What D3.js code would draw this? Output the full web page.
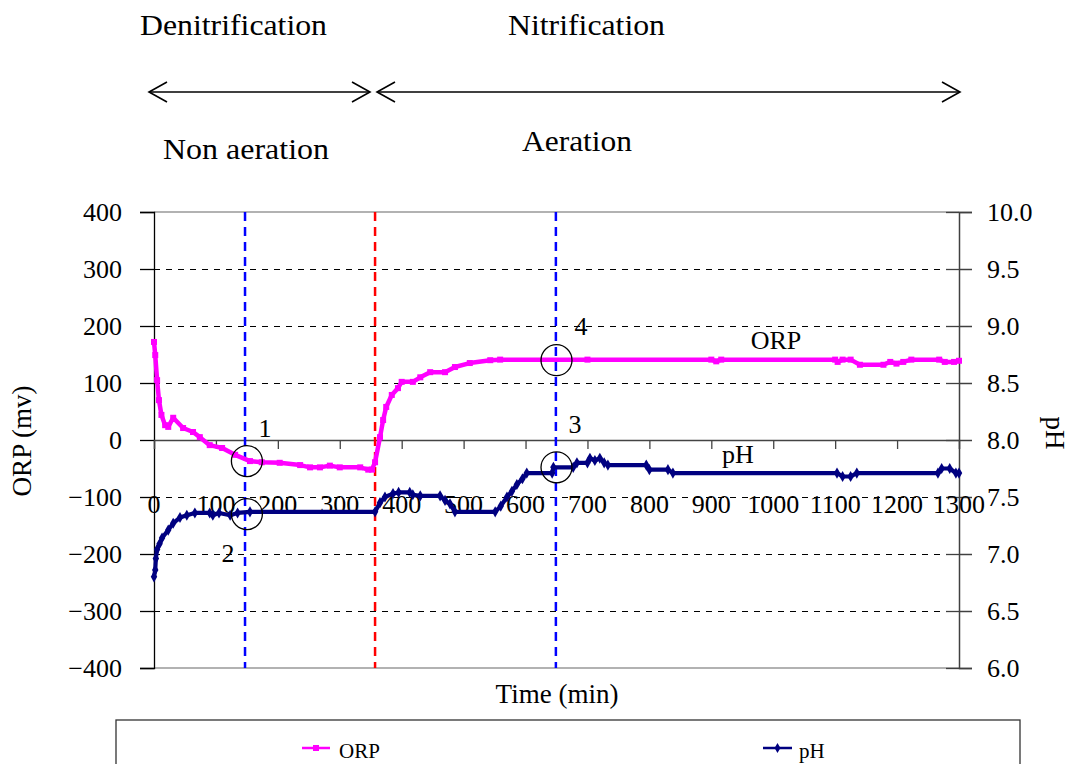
<!DOCTYPE html>
<html>
<head>
<meta charset="utf-8">
<script src="https://cdn.jsdelivr.net/npm/d3@7"></script>
<style>
  html, body { margin: 0; padding: 0; background: #fff; }
  svg { display: block; }
</style>
</head>
<body>
<svg id="chart" width="1069" height="764"></svg>
<script>
// ---------- DATA ----------
const orpTime  = [0, 2, 5, 8, 12, 18, 23, 31, 47, 63, 74, 90, 110, 131, 155, 174, 203, 236, 252, 268, 284, 300, 333, 346, 352, 357, 365, 370, 375, 384, 394, 400, 418, 430, 446, 470, 486, 510, 543, 559, 700, 900, 908, 916, 1100, 1104, 1112, 1125, 1140, 1178, 1189, 1199, 1210, 1223, 1268, 1277, 1292, 1300];
const orpValue = [172, 149, 105, 70, 44, 26, 23, 39, 21, 14, 5, -9, -14, -26, -37, -39, -40, -44, -48, -48, -45, -48, -48, -52, -52, -39, 5, 35, 58, 79, 91, 102, 102, 110, 119, 119, 128, 135, 140, 141, 141, 141, 138, 141, 141, 137, 141, 141, 132, 132, 137, 134, 137, 141, 141, 137, 137, 139];

const phTime  = [0, 2, 3, 5, 9, 13, 23, 31, 42, 53, 66, 90, 95, 105, 123, 135, 155, 357, 365, 373, 386, 395, 413, 418, 430, 462, 470, 478, 486, 551, 560, 570, 578, 586, 595, 602, 643, 645, 677, 683, 700, 704, 712, 720, 727, 733, 795, 800, 830, 838, 1103, 1112, 1125, 1135, 1266, 1272, 1285, 1295, 1300];
const phValue = [6.80, 6.86, 6.96, 7.04, 7.09, 7.14, 7.21, 7.27, 7.32, 7.34, 7.36, 7.36, 7.34, 7.36, 7.34, 7.36, 7.37, 7.37, 7.45, 7.50, 7.53, 7.54, 7.54, 7.52, 7.51, 7.51, 7.47, 7.44, 7.37, 7.37, 7.42, 7.50, 7.55, 7.61, 7.66, 7.71, 7.71, 7.76, 7.76, 7.80, 7.80, 7.84, 7.82, 7.84, 7.80, 7.78, 7.78, 7.74, 7.74, 7.71, 7.71, 7.68, 7.68, 7.71, 7.71, 7.75, 7.75, 7.71, 7.71];

const xTicks   = [0, 100, 200, 300, 400, 500, 600, 700, 800, 900, 1000, 1100, 1200, 1300];
const orpTicks = [-400, -300, -200, -100, 0, 100, 200, 300, 400];
const phTicks  = [6.0, 6.5, 7.0, 7.5, 8.0, 8.5, 9.0, 9.5, 10.0];

const blueLines = [147, 649];
const redLines  = [357];

const circleMarks = [
  {t: 150, axis: "orp", v: -37,  label: "1", lx: 265, ly: 437},
  {t: 150, axis: "ph",  v: 7.35, label: "2", lx: 228, ly: 562},
  {t: 650, axis: "ph",  v: 7.76, label: "3", lx: 575, ly: 433},
  {t: 650, axis: "orp", v: 140,  label: "4", lx: 581, ly: 335}
];

// ---------- SCALES ----------
const FONT = "Liberation Serif";
const svg = d3.select("#chart");
const L = 154, R = 959, T = 212, B = 668;
const x  = d3.scaleLinear().domain([0, 1300]).range([L, R]);
const yL = d3.scaleLinear().domain([-400, 400]).range([B, T]);
const yR = d3.scaleLinear().domain([6, 10]).range([B, T]);

const ORP_C = "#FF00FF", PH_C = "#000080";

function txt(g, x0, y0, s, size) {
  return g.append("text").attr("x", x0).attr("y", y0).attr("font-size", size)
    .style("font-family", `"${FONT}"`).attr("fill", "#000").text(s);
}

// ---------- TOP ANNOTATIONS ----------
const ann = svg.append("g");
txt(ann, 140, 35, "Denitrification", 30).attr("textLength", 187).attr("lengthAdjust", "spacingAndGlyphs");
txt(ann, 508, 35, "Nitrification", 30).attr("textLength", 157).attr("lengthAdjust", "spacingAndGlyphs");
txt(ann, 163, 159, "Non aeration", 30).attr("textLength", 166).attr("lengthAdjust", "spacingAndGlyphs");
txt(ann, 522, 151, "Aeration", 30).attr("textLength", 110).attr("lengthAdjust", "spacingAndGlyphs");

function arrow(x1, x2, y) {
  const g = ann.append("g").attr("stroke", "#000").attr("fill", "none").attr("stroke-width", 1.6);
  g.append("line").attr("x1", x1).attr("x2", x2).attr("y1", y).attr("y2", y);
  g.append("path").attr("d", `M${x1 + 18},${y - 10} L${x1},${y} L${x1 + 18},${y + 10}`);
  g.append("path").attr("d", `M${x2 - 18},${y - 10} L${x2},${y} L${x2 - 18},${y + 10}`);
}
arrow(149, 370, 92);
arrow(377, 960, 92);

// ---------- GRID ----------
svg.append("g").selectAll("line")
  .data(orpTicks.filter(d => d !== 0 && Math.abs(d) !== 400))
  .join("line")
  .attr("x1", L).attr("x2", R)
  .attr("y1", d => Math.round(yL(d)) + 0.5).attr("y2", d => Math.round(yL(d)) + 0.5)
  .attr("stroke", "#000").attr("stroke-width", 1).attr("stroke-dasharray", "6,6");

svg.append("line").attr("x1", L).attr("x2", R).attr("y1", T).attr("y2", T).attr("stroke", "#999").attr("stroke-width", 1.5);
svg.append("line").attr("x1", L).attr("x2", R).attr("y1", B).attr("y2", B).attr("stroke", "#999").attr("stroke-width", 1.5);

// ---------- AXES ----------
const axL = svg.append("g").attr("transform", `translate(${L},0)`)
  .call(d3.axisLeft(yL).tickValues(orpTicks).tickSize(14).tickPadding(18).tickFormat(d3.format("d")));
axL.attr("font-family", FONT);
axL.selectAll("text").attr("font-size", 26).style("font-family", `"${FONT}"`).attr("fill", "#000");
axL.selectAll("line, path").attr("stroke", "#000").attr("stroke-width", 1.3);

const axR = svg.append("g").attr("transform", `translate(${R},0)`)
  .call(d3.axisRight(yR).tickValues(phTicks).tickSize(13).tickPadding(15).tickFormat(d3.format(".1f")));
axR.attr("font-family", FONT);
axR.selectAll("text").attr("font-size", 26).style("font-family", `"${FONT}"`).attr("fill", "#000");
axR.selectAll("line, path").attr("stroke", "#404040").attr("stroke-width", 1.5);
axR.selectAll(".tick").append("line").attr("x1", -13).attr("x2", 0).attr("stroke", "#404040").attr("stroke-width", 1.3);

const axX = svg.append("g").attr("transform", `translate(0,${yL(0)})`)
  .call(d3.axisBottom(x).tickValues(xTicks).tickSize(9).tickFormat(""));
axX.selectAll("line, path").attr("stroke", "#444").attr("stroke-width", 1.3);

const xl = svg.append("g");
xTicks.forEach(d => txt(xl, x(d), 513, String(d), 26).attr("text-anchor", "middle"));

txt(svg, 0, 0, "ORP (mv)", 27).attr("x", null).attr("y", null)
  .attr("transform", `translate(31,441) rotate(-90)`).attr("text-anchor", "middle");
txt(svg, 0, 0, "pH", 27).attr("x", null).attr("y", null)
  .attr("transform", `translate(1046,433) rotate(90)`).attr("text-anchor", "middle");
txt(svg, 557, 703, "Time (min)", 27).attr("text-anchor", "middle");

// ---------- VERTICAL DASHED LINES ----------
svg.append("g").selectAll("line").data(blueLines).join("line")
  .attr("x1", d => x(d)).attr("x2", d => x(d)).attr("y1", T).attr("y2", B)
  .attr("stroke", "#0000FF").attr("stroke-width", 2.5).attr("stroke-dasharray", "9,6");
svg.append("g").selectAll("line").data(redLines).join("line")
  .attr("x1", d => x(d)).attr("x2", d => x(d)).attr("y1", T).attr("y2", B)
  .attr("stroke", "#FF0000").attr("stroke-width", 2.5).attr("stroke-dasharray", "9,6");

// ---------- SERIES ----------
const orpData = orpTime.map((t, i) => ({t, v: orpValue[i]}));
const phData  = phTime.map((t, i) => ({t, v: phValue[i]}));

svg.append("path").datum(orpData)
  .attr("d", d3.line().x(d => x(d.t)).y(d => yL(d.v)))
  .attr("fill", "none").attr("stroke", ORP_C).attr("stroke-width", 4.5).attr("stroke-linejoin", "round");
svg.append("g").selectAll("rect").data(orpData).join("rect")
  .attr("x", d => x(d.t) - 3).attr("y", d => yL(d.v) - 3)
  .attr("width", 6).attr("height", 6).attr("fill", ORP_C);

svg.append("path").datum(phData)
  .attr("d", d3.line().x(d => x(d.t)).y(d => yR(d.v)))
  .attr("fill", "none").attr("stroke", PH_C).attr("stroke-width", 4.2).attr("stroke-linejoin", "round");
svg.append("g").selectAll("path.m").data(phData).join("path").attr("class", "m")
  .attr("transform", d => `translate(${x(d.t)},${yR(d.v)})`)
  .attr("d", d3.symbol(d3.symbolDiamond, 36)).attr("fill", PH_C);

// ---------- CIRCLES & LABELS ----------
const cg = svg.append("g");
cg.selectAll("circle").data(circleMarks).join("circle")
  .attr("cx", d => x(d.t)).attr("cy", d => d.axis === "orp" ? yL(d.v) : yR(d.v))
  .attr("r", 15.5).attr("fill", "none").attr("stroke", "#000").attr("stroke-width", 1.3);
circleMarks.forEach(d => txt(cg, d.lx, d.ly, d.label, 26).attr("text-anchor", "middle"));

txt(svg, 776, 349, "ORP", 26).attr("text-anchor", "middle");
txt(svg, 738, 463, "pH", 26).attr("text-anchor", "middle");

// ---------- LEGEND ----------
const lg = svg.append("g");
lg.append("rect").attr("x", 116).attr("y", 720).attr("width", 904).attr("height", 60)
  .attr("fill", "#fff").attr("stroke", "#333").attr("stroke-width", 1.3);
lg.append("line").attr("x1", 302).attr("x2", 330).attr("y1", 748).attr("y2", 748).attr("stroke", ORP_C).attr("stroke-width", 2.5);
lg.append("rect").attr("x", 313).attr("y", 745).attr("width", 6).attr("height", 6).attr("fill", ORP_C);
txt(lg, 339, 758, "ORP", 21);
lg.append("line").attr("x1", 763).attr("x2", 792).attr("y1", 748).attr("y2", 748).attr("stroke", PH_C).attr("stroke-width", 2.5);
lg.append("path").attr("transform", "translate(777.5,748)").attr("d", d3.symbol(d3.symbolDiamond, 30)).attr("fill", PH_C);
txt(lg, 799, 758, "pH", 21);
</script>
</body>
</html>
